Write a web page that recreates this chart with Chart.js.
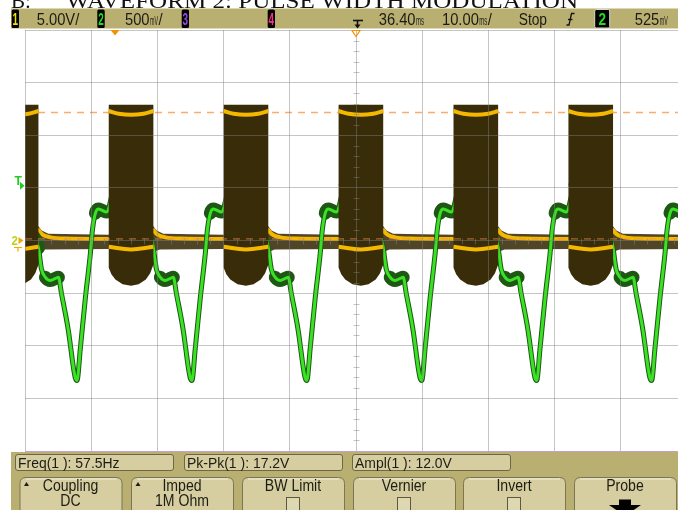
<!DOCTYPE html>
<html>
<head>
<meta charset="utf-8">
<script src="https://cdn.jsdelivr.net/npm/chart.js@4.4.1/dist/chart.umd.min.js"></script>
<style>
  html, body { margin: 0; padding: 0; background: #fff; overflow: hidden; width: 678px; height: 510px; }
  #wrap { position: relative; width: 700px; height: 510px; }
  canvas { display: block; }
</style>
</head>
<body>
<div id="wrap"><canvas id="scope" width="700" height="510"></canvas></div>
<script>
// ---- Display settings (time base 10 ms/div, delay 36.40 ms) ----
const timeGrid = [-13.6, -3.6, 6.4, 16.4, 26.4, 36.4, 46.4, 56.4, 66.4, 76.4, 86.4]; // ms
const ch1Grid = [-20, -15, -10, -5, 0, 5, 10, 15, 20];                                 // V, 5 V/div
const trigLevel = 0.525;     // V on channel 2
const trigTime = 0;          // ms
const delayTime = 36.4;      // ms
const amplTop = 12.15;       // V, top level marker
const amplBase = 0.15;       // V, base level marker

// ---- Status line and measurement read-outs ----
const titleText = ['B:', 'WAVEFORM 2: PULSE WIDTH MODULATION'];
const measureLabels = ['Freq(1 ): 57.5Hz', 'Pk-Pk(1 ): 17.2V', 'Ampl(1 ): 12.0V'];
const softKeys = [['Coupling', 'DC'], ['Imped', '1M Ohm'], ['BW Limit', ''], ['Vernier', ''], ['Invert', ''], ['Probe', '']];

// ---- Channel 1: envelope of the switching signal between bursts [ms, V] ----
const ch1BandHigh = [
  [-13.6, 0.55], [-11.57, 1.35], [-11.07, 0.95], [-10.07, 0.65], [-0.95, 0.55],
  [5.79, 1.35], [6.29, 0.95], [7.29, 0.65], [16.41, 0.55],
  [23.15, 1.35], [23.65, 0.95], [24.65, 0.65], [33.77, 0.55],
  [40.51, 1.35], [41.01, 0.95], [42.01, 0.65], [51.13, 0.55],
  [57.87, 1.35], [58.37, 0.95], [59.37, 0.65], [68.49, 0.55],
  [75.23, 1.35], [75.73, 0.95], [76.73, 0.65], [86.4, 0.55]
];
const ch1BandLow = [
  [-13.6, -0.8], [-11.57, -1.1], [-10.6, -0.85], [-0.95, -0.8],
  [5.79, -1.1], [6.76, -0.85], [16.41, -0.8],
  [23.15, -1.1], [24.12, -0.85], [33.77, -0.8],
  [40.51, -1.1], [41.48, -0.85], [51.13, -0.8],
  [57.87, -1.1], [58.84, -0.85], [68.49, -0.8],
  [75.23, -1.1], [76.2, -0.85], [86.4, -0.8]
];
// Channel 1 resting level between bursts [ms, V]
const ch1Level = [
  [-13.6, 0.14], [-11.57, 1.0], [-11.27, 0.75], [-10.77, 0.5], [-9.77, 0.3], [-7.57, 0.18], [-0.95, 0.14],
  [5.79, 1.0], [6.09, 0.75], [6.59, 0.5], [7.59, 0.3], [9.79, 0.18], [16.41, 0.14],
  [23.15, 1.0], [23.45, 0.75], [23.95, 0.5], [24.95, 0.3], [27.15, 0.18], [33.77, 0.14],
  [40.51, 1.0], [40.81, 0.75], [41.31, 0.5], [42.31, 0.3], [44.51, 0.18], [51.13, 0.14],
  [57.87, 1.0], [58.17, 0.75], [58.67, 0.5], [59.67, 0.3], [61.87, 0.18], [68.49, 0.14],
  [75.23, 1.0], [75.53, 0.75], [76.03, 0.5], [77.03, 0.3], [79.23, 0.18], [86.4, 0.14]
];
// Channel 1 PWM bursts: outline of each filled envelope [ms, V]
const ch1Bursts = [
  [[-18.31, 0.6], [-18.31, 12.9], [-11.57, 12.9], [-11.57, -2.3], [-12.05, -3.1], [-12.7, -3.7], [-13.8, -4.15], [-14.94, -4.3], [-16.2, -4.15], [-17.3, -3.7], [-17.9, -3.2], [-18.31, -2.6]],
  [[-0.95, 0.6], [-0.95, 12.9], [5.79, 12.9], [5.79, -2.3], [5.31, -3.1], [4.66, -3.7], [3.56, -4.15], [2.42, -4.3], [1.15, -4.15], [0.05, -3.7], [-0.55, -3.2], [-0.95, -2.6]],
  [[16.41, 0.6], [16.41, 12.9], [23.15, 12.9], [23.15, -2.3], [22.67, -3.1], [22.02, -3.7], [20.92, -4.15], [19.78, -4.3], [18.51, -4.15], [17.41, -3.7], [16.81, -3.2], [16.41, -2.6]],
  [[33.77, 0.6], [33.77, 12.9], [40.51, 12.9], [40.51, -2.3], [40.03, -3.1], [39.38, -3.7], [38.28, -4.15], [37.14, -4.3], [35.87, -4.15], [34.77, -3.7], [34.17, -3.2], [33.77, -2.6]],
  [[51.13, 0.6], [51.13, 12.9], [57.87, 12.9], [57.87, -2.3], [57.39, -3.1], [56.74, -3.7], [55.64, -4.15], [54.5, -4.3], [53.23, -4.15], [52.13, -3.7], [51.53, -3.2], [51.13, -2.6]],
  [[68.49, 0.6], [68.49, 12.9], [75.23, 12.9], [75.23, -2.3], [74.75, -3.1], [74.1, -3.7], [73.0, -4.15], [71.86, -4.3], [70.59, -4.15], [69.49, -3.7], [68.89, -3.2], [68.49, -2.6]]
];
// Channel 1 high and low switching levels inside each burst [ms, V]
const ch1BurstHigh = [
  [[-18.31, 12.3], [-16.81, 12.05], [-14.94, 11.95], [-13.07, 12.05], [-11.57, 12.3]],
  [[-0.95, 12.3], [0.55, 12.05], [2.42, 11.95], [4.29, 12.05], [5.79, 12.3]],
  [[16.41, 12.3], [17.91, 12.05], [19.78, 11.95], [21.65, 12.05], [23.15, 12.3]],
  [[33.77, 12.3], [35.27, 12.05], [37.14, 11.95], [39.01, 12.05], [40.51, 12.3]],
  [[51.13, 12.3], [52.63, 12.05], [54.5, 11.95], [56.37, 12.05], [57.87, 12.3]],
  [[68.49, 12.3], [69.99, 12.05], [71.86, 11.95], [73.73, 12.05], [75.23, 12.3]]
];
const ch1BurstLow = [
  [[-18.31, -0.6], [-14.94, -0.85], [-11.57, -0.6]],
  [[-0.95, -0.6], [2.42, -0.85], [5.79, -0.6]],
  [[16.41, -0.6], [19.78, -0.85], [23.15, -0.6]],
  [[33.77, -0.6], [37.14, -0.85], [40.51, -0.6]],
  [[51.13, -0.6], [54.5, -0.85], [57.87, -0.6]],
  [[68.49, -0.6], [71.86, -0.85], [75.23, -0.6]]
];

// ---- Channel 2 (500 mV/div) [ms, V] ----
const ch2Trace = [
  [-13.6, 0.1],
  [-11.57, -0.07], [-11.12, -0.27], [-10.51, -0.35], [-9.76, -0.38], [-9.0, -0.36], [-8.55, -0.35], [-8.1, -0.5],
  [-7.04, -0.86], [-6.28, -1.21], [-5.98, -1.31], [-5.75, -1.33], [-5.23, -1.02], [-4.47, -0.54], [-3.72, -0.12],
  [-3.41, 0.1], [-2.96, 0.26], [-2.51, 0.3], [-2.05, 0.29], [-1.3, 0.27],
  [0.05, 0.53], [2.05, 0.57], [4.05, 0.38], [5.49, 0.02],
  [5.79, -0.07], [6.24, -0.27], [6.85, -0.35], [7.6, -0.38], [8.36, -0.36], [8.81, -0.35], [9.26, -0.5],
  [10.32, -0.86], [11.08, -1.21], [11.38, -1.31], [11.61, -1.33], [12.13, -1.02], [12.89, -0.54], [13.64, -0.12],
  [13.95, 0.1], [14.4, 0.26], [14.85, 0.3], [15.31, 0.29], [16.06, 0.27],
  [17.41, 0.53], [19.41, 0.57], [21.41, 0.38], [22.85, 0.02],
  [23.15, -0.07], [23.6, -0.27], [24.21, -0.35], [24.96, -0.38], [25.72, -0.36], [26.17, -0.35], [26.62, -0.5],
  [27.68, -0.86], [28.44, -1.21], [28.74, -1.31], [28.97, -1.33], [29.49, -1.02], [30.25, -0.54], [31.0, -0.12],
  [31.31, 0.1], [31.76, 0.26], [32.21, 0.3], [32.67, 0.29], [33.42, 0.27],
  [34.77, 0.53], [36.77, 0.57], [38.77, 0.38], [40.21, 0.02],
  [40.51, -0.07], [40.96, -0.27], [41.57, -0.35], [42.32, -0.38], [43.08, -0.36], [43.53, -0.35], [43.98, -0.5],
  [45.04, -0.86], [45.8, -1.21], [46.1, -1.31], [46.33, -1.33], [46.85, -1.02], [47.61, -0.54], [48.36, -0.12],
  [48.67, 0.1], [49.12, 0.26], [49.57, 0.3], [50.03, 0.29], [50.78, 0.27],
  [52.13, 0.53], [54.13, 0.57], [56.13, 0.38], [57.57, 0.02],
  [57.87, -0.07], [58.32, -0.27], [58.93, -0.35], [59.68, -0.38], [60.44, -0.36], [60.89, -0.35], [61.34, -0.5],
  [62.4, -0.86], [63.16, -1.21], [63.46, -1.31], [63.69, -1.33], [64.21, -1.02], [64.97, -0.54], [65.72, -0.12],
  [66.03, 0.1], [66.48, 0.26], [66.93, 0.3], [67.39, 0.29], [68.14, 0.27],
  [69.49, 0.53], [71.49, 0.57], [73.49, 0.38], [74.93, 0.02],
  [75.23, -0.07], [75.68, -0.27], [76.29, -0.35], [77.04, -0.38], [77.8, -0.36], [78.25, -0.35], [78.7, -0.5],
  [79.76, -0.86], [80.52, -1.21], [80.82, -1.31], [81.05, -1.33], [81.57, -1.02], [82.33, -0.54], [83.08, -0.12],
  [83.39, 0.1], [83.84, 0.26], [84.29, 0.3], [84.75, 0.29], [85.5, 0.27], [86.4, 0.27]
];

// ---- Colours ----
const KHAKI = 'rgb(185,175,113)';
const PANEL = 'rgb(214,206,161)';
const INK = '#1c1c14';
const BROWN = 'rgb(56,44,9)';
const BAND = 'rgba(56,44,9,0.88)';
const YELLOW = 'rgb(244,184,0)';
const GREEN = 'rgb(58,226,36)';
const GREEN_DARK = 'rgb(30,88,20)';
const ORANGE = 'rgb(243,146,0)';
const GRID = 'rgba(128,128,128,0.46)';

// ---- helpers ----
const xy = pts => pts.map(p => ({ x: p[0], y: p[1] }));
const joinRuns = runs => runs.flatMap((r, i) => i ? [{ x: r[0][0], y: null }, ...xy(r)] : xy(r));

function text(ctx, s, x, y, size, color, sx, align, weight, family) {
  ctx.save();
  ctx.font = (weight || 'normal') + ' ' + size + 'px ' + (family || '"Liberation Sans", Arial, sans-serif');
  ctx.fillStyle = color;
  ctx.textBaseline = 'alphabetic';
  ctx.translate(x, y);
  ctx.scale(sx, 1);
  const w = ctx.measureText(s).width;
  const ox = align === 'center' ? -w / 2 : (align === 'right' ? -w : 0);
  ctx.fillText(s, ox, 0);
  ctx.restore();
  return w * sx;
}
function fitText(ctx, s, x, y, size, color, width, family) {
  ctx.save();
  ctx.font = size + 'px ' + (family || '"Liberation Sans", Arial, sans-serif');
  const w = ctx.measureText(s).width;
  ctx.restore();
  return text(ctx, s, x, y, size, color, width / w, 'left', 'normal', family);
}
function roundRect(ctx, x, y, w, h, r) {
  ctx.beginPath();
  ctx.moveTo(x + r, y);
  ctx.lineTo(x + w - r, y);
  ctx.quadraticCurveTo(x + w, y, x + w, y + r);
  ctx.lineTo(x + w, y + h - r);
  ctx.quadraticCurveTo(x + w, y + h, x + w - r, y + h);
  ctx.lineTo(x + r, y + h);
  ctx.quadraticCurveTo(x, y + h, x, y + h - r);
  ctx.lineTo(x, y + r);
  ctx.quadraticCurveTo(x, y, x + r, y);
  ctx.closePath();
}
function chanBox(ctx, label, x, w, color, framed) {
  ctx.save();
  roundRect(ctx, x, 9.5, w, 18.5, 1.5);
  ctx.fillStyle = '#000';
  ctx.fill();
  if (framed) { ctx.strokeStyle = '#d8d8d0'; ctx.lineWidth = 1; ctx.stroke(); }
  ctx.restore();
  text(ctx, label, x + w / 2, 25, 16, color, framed ? 0.85 : 0.62, 'center', 'bold');
}
function reading(ctx, num, unit, x, tail) {
  let w = text(ctx, num, x, 25, 16, INK, 0.92);
  w += fitText(ctx, unit, x + w + 0.5, 25, 13, INK, 8) + 0.5;
  if (tail) w += text(ctx, tail, x + w + 0.5, 25, 16, INK, 0.92);
  return w;
}

// ---- frame, status line, soft keys and markers ----
const scopeFrame = {
  id: 'scopeFrame',
  beforeDraw(chart) {
    const ctx = chart.ctx;
    const W = chart.width;
    ctx.save();
    ctx.fillStyle = '#fff';
    ctx.fillRect(0, 0, W, chart.height);

    // heading above the screen (only its lower part is in view)
    text(ctx, titleText[0], 11, 7.5, 21, '#111', 1, 'left', 'normal', '"Liberation Serif", serif');
    fitText(ctx, titleText[1], 66, 7.5, 21, '#111', 512, '"Liberation Serif", serif');

    // status line
    ctx.fillStyle = KHAKI;
    ctx.fillRect(11, 8.5, W - 11, 20);
    chanBox(ctx, '1', 11.7, 7.3, '#f0e400');
    text(ctx, '5.00V/', 36.7, 25, 16, INK, 0.92);
    chanBox(ctx, '2', 97.3, 7.4, '#22dd22');
    reading(ctx, '500', 'mV', 125, '/');
    chanBox(ctx, '3', 181.7, 7.3, '#9a44ee');
    chanBox(ctx, '4', 267.7, 7.3, '#ff2a8a');
    // time reference symbol
    ctx.strokeStyle = '#111'; ctx.fillStyle = '#111'; ctx.lineWidth = 1.6;
    ctx.beginPath(); ctx.moveTo(353, 20.5); ctx.lineTo(363, 20.5); ctx.stroke();
    ctx.beginPath(); ctx.moveTo(357.5, 20.5); ctx.lineTo(357.5, 25); ctx.stroke();
    ctx.beginPath(); ctx.moveTo(354.5, 24.5); ctx.lineTo(360.5, 24.5); ctx.lineTo(357.5, 28.5); ctx.closePath(); ctx.fill();
    reading(ctx, '36.40', 'ms', 378.7);
    reading(ctx, '10.00', 'ms', 442, '/');
    text(ctx, 'Stop', 518.7, 25, 16, INK, 0.86);
    // rising edge symbol
    ctx.lineWidth = 1.3;
    ctx.beginPath(); ctx.moveTo(566.5, 25); ctx.lineTo(569, 25); ctx.lineTo(571.5, 13.5); ctx.lineTo(574.5, 13.5); ctx.stroke();
    ctx.beginPath(); ctx.moveTo(568, 19.5); ctx.lineTo(572.5, 19.5); ctx.stroke();
    chanBox(ctx, '2', 594.7, 15, '#22dd22', true);
    reading(ctx, '525', 'mV', 634.7);

    // measurement and soft key area
    ctx.fillStyle = KHAKI;
    ctx.fillRect(11, 452, W - 11, 60);
    const boxX = [15, 184, 352];
    measureLabels.forEach((m, i) => {
      roundRect(ctx, boxX[i] + 0.5, 454.5, 158, 16, 2.5);
      ctx.fillStyle = PANEL; ctx.fill();
      ctx.strokeStyle = '#6d6748'; ctx.lineWidth = 1; ctx.stroke();
      text(ctx, m, boxX[i] + 3, 467.5, 15, INK, 0.93);
    });
    const keyX = [19.5, 131, 242, 353, 463, 574];
    softKeys.forEach((k, i) => {
      const x0 = keyX[i], w = 102, cx = x0 + w / 2;
      roundRect(ctx, x0 + 0.5, 477.5, w, 45, 6);
      ctx.fillStyle = PANEL; ctx.fill();
      ctx.strokeStyle = '#7b7555'; ctx.lineWidth = 1; ctx.stroke();
      ctx.strokeStyle = 'rgba(255,255,245,0.7)';
      ctx.beginPath(); ctx.moveTo(x0 + 6, 479); ctx.lineTo(x0 + w - 5, 479); ctx.stroke();
      text(ctx, k[0], cx, 490.5, 16, INK, 0.88, 'center');
      if (k[1]) text(ctx, k[1], cx, 506, 16, INK, 0.88, 'center');
      if (i < 2) {
        ctx.fillStyle = INK;
        ctx.beginPath(); ctx.moveTo(x0 + 4.5, 486); ctx.lineTo(x0 + 9.5, 486); ctx.lineTo(x0 + 7, 482); ctx.closePath(); ctx.fill();
      }
      if (i >= 2 && i <= 4) {
        ctx.fillStyle = 'rgb(222,216,178)';
        ctx.fillRect(cx - 6.5, 497.5, 13, 13);
        ctx.strokeStyle = '#5d5840'; ctx.strokeRect(cx - 6.5, 497.5, 13, 13);
      }
      if (i === 5) {
        ctx.fillStyle = '#000';
        ctx.fillRect(cx - 6, 499.5, 12, 6);
        ctx.beginPath(); ctx.moveTo(cx - 16, 505); ctx.lineTo(cx + 16, 505); ctx.lineTo(cx, 516); ctx.closePath(); ctx.fill();
      }
    });
    ctx.restore();
  },
  afterDatasetsDraw(chart) {
    // minor ticks along the centre lines
    const ctx = chart.ctx, xs = chart.scales.x, ys = chart.scales.y;
    const cx = Math.round(xs.getPixelForValue(delayTime)) + 0.5;
    const cy = Math.round(ys.getPixelForValue(0)) + 0.5;
    ctx.save();
    ctx.strokeStyle = GRID; ctx.lineWidth = 1;
    ctx.beginPath();
    for (let i = 0; i < timeGrid.length - 1; i++) {
      const a = timeGrid[i], b = timeGrid[i + 1];
      for (let k = 1; k < 5; k++) {
        const px = Math.round(xs.getPixelForValue(a + (b - a) * k / 5)) + 0.5;
        ctx.moveTo(px, cy - 3); ctx.lineTo(px, cy + 3);
      }
    }
    for (let i = 0; i < ch1Grid.length - 1; i++) {
      const a = ch1Grid[i], b = ch1Grid[i + 1];
      for (let k = 1; k < 5; k++) {
        const py = Math.round(ys.getPixelForValue(a + (b - a) * k / 5)) + 0.5;
        ctx.moveTo(cx - 3, py); ctx.lineTo(cx + 3, py);
      }
    }
    ctx.stroke();
    ctx.restore();
  },
  afterDraw(chart) {
    const ctx = chart.ctx, xs = chart.scales.x, y2 = chart.scales.y2, area = chart.chartArea;
    ctx.save();
    // trigger point and delay reference markers
    const tx = xs.getPixelForValue(trigTime);
    ctx.fillStyle = ORANGE;
    ctx.beginPath(); ctx.moveTo(tx - 4.5, area.top); ctx.lineTo(tx + 4.5, area.top); ctx.lineTo(tx, area.top + 5.5); ctx.closePath(); ctx.fill();
    const dx = xs.getPixelForValue(delayTime);
    ctx.strokeStyle = ORANGE; ctx.lineWidth = 1.2;
    ctx.beginPath(); ctx.moveTo(dx - 4, area.top + 0.5); ctx.lineTo(dx + 4, area.top + 0.5); ctx.lineTo(dx, area.top + 6.5); ctx.closePath(); ctx.stroke();
    // trigger level marker
    const ty = y2.getPixelForValue(trigLevel);
    text(ctx, 'T', 14.5, ty - 0.5, 12, '#22cc22', 1, 'left', 'bold');
    ctx.fillStyle = '#22cc22';
    ctx.beginPath(); ctx.moveTo(20, ty - 3.5); ctx.lineTo(24.5, ty + 0.5); ctx.lineTo(20, ty + 4.5); ctx.closePath(); ctx.fill();
    // channel ground markers
    const gy = y2.getPixelForValue(0);
    text(ctx, '2', 11.5, gy + 4, 12, '#b8d21c', 0.95, 'left', 'bold');
    ctx.fillStyle = '#f4a800';
    ctx.beginPath(); ctx.moveTo(18.5, gy - 3.5); ctx.lineTo(23.5, gy); ctx.lineTo(18.5, gy + 3.5); ctx.closePath(); ctx.fill();
    ctx.strokeStyle = '#f4a800'; ctx.lineWidth = 1.2;
    ctx.beginPath(); ctx.moveTo(14, gy + 7); ctx.lineTo(22, gy + 7); ctx.moveTo(18, gy + 7); ctx.lineTo(18, gy + 11); ctx.stroke();
    ctx.restore();
  }
};

// wide noise band on the flat parts of channel 2, narrow on the edges and at the troughs
const haloWidth = c => {
  const dv = c.p1.parsed.y - c.p0.parsed.y, dt = (c.p1.parsed.x - c.p0.parsed.x) || 1e-6;
  const flat = Math.abs(dv / dt) < 0.12 && c.p0.parsed.y > -1.0;
  return flat ? 13 : 5;
};

const noDots = { pointRadius: 0, pointHoverRadius: 0, clip: 0 };

new Chart(document.getElementById('scope'), {
  type: 'line',
  data: {
    datasets: [
      { // channel 1 envelope between bursts
        ...noDots, data: xy(ch1BandHigh.concat(ch1BandLow.slice().reverse())),
        fill: 'shape', backgroundColor: BAND, borderWidth: 0, borderColor: 'rgba(0,0,0,0)', order: 9
      },
      { // channel 1 resting level
        ...noDots, data: xy(ch1Level), borderColor: YELLOW, borderWidth: 4, fill: false,
        cubicInterpolationMode: 'monotone', borderJoinStyle: 'round', order: 8
      },
      { // top level marker
        ...noDots, data: xy([[timeGrid[0], amplTop], [timeGrid[timeGrid.length - 1], amplTop]]),
        borderColor: 'rgb(250,172,110)', borderWidth: 1.5, borderDash: [7, 6], fill: false, order: 7
      },
      { // channel 2 noise band
        ...noDots, data: xy(ch2Trace), yAxisID: 'y2', borderColor: GREEN_DARK, borderWidth: 5,
        borderCapStyle: 'round', borderJoinStyle: 'round', cubicInterpolationMode: 'monotone', fill: false,
        segment: { borderWidth: haloWidth }, order: 6
      },
      { // channel 2 trace
        ...noDots, data: xy(ch2Trace), yAxisID: 'y2', borderColor: GREEN, borderWidth: 3,
        borderJoinStyle: 'round', cubicInterpolationMode: 'monotone', fill: false, order: 5
      },
      { // channel 1 PWM bursts
        ...noDots, data: joinRuns(ch1Bursts), fill: 'shape', backgroundColor: BROWN,
        borderWidth: 0, borderColor: 'rgba(0,0,0,0)', spanGaps: false, order: 4
      },
      { // burst high level
        ...noDots, data: joinRuns(ch1BurstHigh), borderColor: YELLOW, borderWidth: 4, tension: 0.4,
        spanGaps: false, fill: false, order: 3
      },
      { // burst low level
        ...noDots, data: joinRuns(ch1BurstLow), borderColor: YELLOW, borderWidth: 4, tension: 0.4,
        spanGaps: false, fill: false, order: 3
      },
      { // base level marker
        ...noDots, data: xy([[timeGrid[0], amplBase], [timeGrid[timeGrid.length - 1], amplBase]]),
        borderColor: 'rgba(236,140,80,0.75)', borderWidth: 1, borderDash: [7, 6], fill: false, order: 2
      }
    ]
  },
  options: {
    responsive: false,
    devicePixelRatio: 1,
    animation: false,
    events: [],
    layout: { padding: { left: 25, top: 30, right: 13, bottom: 59 } },
    plugins: { legend: { display: false }, tooltip: { enabled: false } },
    scales: {
      x: {
        type: 'linear', min: timeGrid[0], max: timeGrid[timeGrid.length - 1],
        afterBuildTicks: s => { s.ticks = timeGrid.map(v => ({ value: v })); },
        ticks: { display: false }, border: { display: false },
        grid: { z: 1, color: GRID, lineWidth: 1, drawTicks: false }
      },
      y: {
        type: 'linear', min: ch1Grid[0], max: ch1Grid[ch1Grid.length - 1],
        afterBuildTicks: s => { s.ticks = ch1Grid.map(v => ({ value: v })); },
        ticks: { display: false }, border: { display: false },
        grid: {
          z: 1, lineWidth: 1, drawTicks: false,
          color: c => (c.tick && c.tick.value === ch1Grid[0]) ? 'rgb(196,160,210)' : GRID
        }
      },
      y2: { type: 'linear', min: -2, max: 2, display: false }
    }
  },
  plugins: [scopeFrame]
});
</script>
</body>
</html>
